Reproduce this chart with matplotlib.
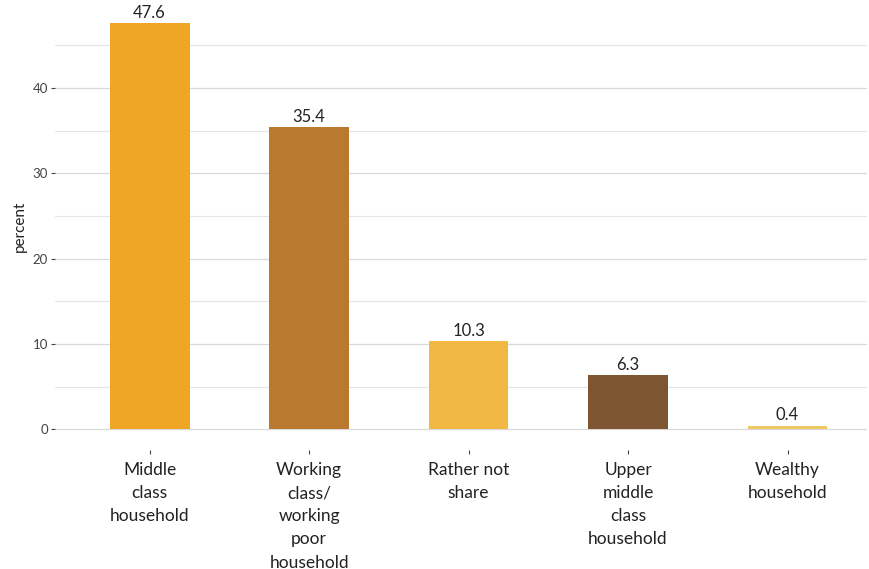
import matplotlib.pyplot as plt
import numpy as np

plt.rcParams['font.family'] = ['Lato', 'DejaVu Sans']

categories = ["Middle\nclass\nhousehold", "Working\nclass/\nworking\npoor\nhousehold",
              "Rather not\nshare", "Upper\nmiddle\nclass\nhousehold", "Wealthy\nhousehold"]
values = [47.6, 35.4, 10.3, 6.3, 0.4]
colors = ["#EEA624", "#B97A2F", "#F1B943", "#7D5531", "#F0C862"]

fig = plt.figure(figsize=(8.69, 5.69), dpi=100)
ax = fig.add_axes([0.063, 0.21, 0.935, 0.785])

x = np.arange(1, len(values) + 1)
ax.bar(x, values, width=0.5, color=colors, zorder=3)
for xi, v in zip(x, values):
    ax.text(xi, v + 0.3, f"{v}", ha="center", va="bottom", fontsize=12, color="#222222", zorder=4)

ax.set_xlim(0.405, 5.5)
ax.set_ylim(-2.38, 50.0)
ax.set_yticks([0, 10, 20, 30, 40])
ax.set_yticks([5, 15, 25, 35, 45], minor=True)
ax.grid(True, which="major", axis="y", color="#d9d9d9", linewidth=0.9, zorder=0)
ax.grid(True, which="minor", axis="y", color="#e6e6e6", linewidth=0.8, zorder=0)
ax.set_xticks(x)
ax.set_xticklabels(categories, fontsize=12.5, linespacing=1.55, color="#222222")
ax.tick_params(axis="y", which="major", length=3, color="#444444", labelsize=9.5, labelcolor="#444444", pad=2)
ax.tick_params(axis="y", which="minor", length=0)
ax.tick_params(axis="x", length=3, color="#444444", pad=6)
for s in ax.spines.values():
    s.set_visible(False)
ax.set_ylabel("percent", fontsize=11, color="#222222", labelpad=4)

fig.savefig("out.png", dpi=100)
